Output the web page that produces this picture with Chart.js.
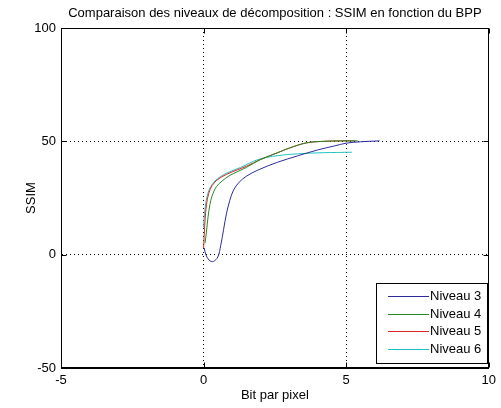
<!DOCTYPE html>
<html>
<head>
<meta charset="utf-8">
<script src="https://cdn.jsdelivr.net/npm/chart.js@4/dist/chart.umd.min.js"></script>
<style>
  html, body { margin: 0; padding: 0; background: #fff; }
  #wrap { width: 501px; height: 408px; }
</style>
</head>
<body>
<div id="wrap"><canvas id="c" width="501" height="408"></canvas></div>
<script>
// Courbes SSIM en fonction du débit (bit par pixel) par niveau de décomposition
const seriesNames = ['Niveau 3', 'Niveau 4', 'Niveau 5', 'Niveau 6'];
const seriesColors = ['#2b2b9c', '#238a23', '#e02424', '#22c2c2'];

const bpp3  = [0.02, 0.08, 0.2, 0.34, 0.5, 0.6, 0.7, 0.8, 0.92, 1.05, 1.25, 1.5, 1.9, 2.6, 3.3, 4.0, 4.6, 5.0, 5.5, 6.17];
const ssim3 = [3, 0, -2.5, -3, -1, 4, 11, 18, 24, 28.5, 32, 34.6, 37.3, 40.8, 43.6, 46.2, 48, 49.2, 49.8, 50.2];

const bpp4  = [0.05, 0.1, 0.16, 0.22, 0.3, 0.45, 0.65, 0.9, 1.2, 1.5, 2.0, 2.6, 3.0, 3.6, 4.2, 4.8, 5.4];
const ssim4 = [5, 10, 17, 22, 26, 30, 32.5, 34.8, 36.7, 38.5, 42, 45, 47, 49.3, 50, 50.2, 50.2];

const bpp5  = [0, 0.02, 0.05, 0.1, 0.18, 0.3, 0.5, 0.8, 1.2, 1.5, 2.0, 2.6, 3.0, 3.6, 4.2, 4.8, 5.3];
const ssim5 = [3, 8, 15, 22, 27, 30.5, 33.2, 35.4, 37.5, 39, 42, 45, 47, 49.3, 50, 50.2, 50.2];

const bpp6  = [0, 0.03, 0.08, 0.15, 0.25, 0.4, 0.6, 0.9, 1.3, 1.9, 2.6, 3.3, 4.2, 4.7, 5.2];
const ssim6 = [12, 18, 23, 27, 30, 32.5, 34.5, 36.5, 38.5, 41.9, 43.7, 44.5, 45, 45.1, 45.2];

const xTicks = [-5, 0, 5, 10];
const yTicks = [-50, 0, 50, 100];

const titleText = 'Comparaison des niveaux de décomposition : SSIM en fonction du BPP';
const xTitle = 'Bit par pixel';
const yTitle = 'SSIM';

const xs = [bpp3, bpp4, bpp5, bpp6];
const ys = [ssim3, ssim4, ssim5, ssim6];

const datasets = seriesNames.map((name, i) => ({
  label: name,
  data: xs[i].map((x, j) => ({ x: x, y: ys[i][j] })),
  showLine: true,
  borderColor: seriesColors[i],
  backgroundColor: seriesColors[i],
  borderWidth: 1,
  pointRadius: 0,
  tension: 0.35,
  fill: false
}));

const FONT = 'Liberation Sans, Arial, sans-serif';
const FS = 13;

// Cadre, graduations intérieures, titre et légende encadrée
const framePlugin = {
  id: 'frame',
  afterDraw(chart) {
    const ctx = chart.ctx;
    const a = chart.chartArea;
    const xs_ = chart.scales.x, ys_ = chart.scales.y;
    ctx.save();
    ctx.strokeStyle = '#000';
    ctx.lineWidth = 1;
    ctx.setLineDash([]);
    const L = Math.round(a.left) + 0.5, R = Math.round(a.right) - 0.5;
    const T = Math.round(a.top) + 0.5, B = Math.round(a.bottom) - 0.5;
    ctx.strokeRect(L, T, R - L, B - T);
    ctx.beginPath();
    xTicks.forEach(v => {
      const px = Math.round(xs_.getPixelForValue(v)) + 0.5;
      ctx.moveTo(px, B); ctx.lineTo(px, B - 5);
      ctx.moveTo(px, T); ctx.lineTo(px, T + 5);
    });
    yTicks.forEach(v => {
      const py = Math.round(ys_.getPixelForValue(v)) + 0.5;
      ctx.moveTo(L, py); ctx.lineTo(L + 5, py);
      ctx.moveTo(R, py); ctx.lineTo(R - 5, py);
    });
    ctx.stroke();

    // titre
    ctx.fillStyle = '#000';
    ctx.font = FS + 'px ' + FONT;
    ctx.textAlign = 'center';
    ctx.textBaseline = 'middle';
    ctx.fillText(titleText, (a.left + a.right) / 2, 13);

    // légende
    const bx = 376.5, by = 283.5, bw = 111, bh = 80;
    ctx.fillStyle = '#fff';
    ctx.fillRect(bx, by, bw, bh);
    ctx.strokeStyle = '#000';
    ctx.strokeRect(bx, by, bw, bh);
    ctx.textAlign = 'left';
    chart.data.datasets.forEach((ds, i) => {
      const yy = Math.round(296 + i * 17.6) + 0.5;
      ctx.strokeStyle = ds.borderColor;
      ctx.beginPath();
      ctx.moveTo(388, yy); ctx.lineTo(429, yy);
      ctx.stroke();
      ctx.fillStyle = '#000';
      ctx.fillText(ds.label, 430, yy);
    });
    ctx.restore();
  }
};

new Chart(document.getElementById('c'), {
  type: 'scatter',
  data: { datasets: datasets },
  options: {
    responsive: false,
    animation: false,
    layout: { padding: { top: 28, right: 8, left: 0, bottom: 0 } },
    plugins: {
      legend: { display: false },
      title: { display: false },
      tooltip: { enabled: false }
    },
    scales: {
      x: {
        type: 'linear',
        min: -5, max: 10,
        afterBuildTicks: s => { s.ticks = xTicks.map(v => ({ value: v })); },
        afterFit: s => { s.height = 40; },
        grid: { color: '#000', lineWidth: 1, drawTicks: false },
        border: { display: true, color: '#000', dash: [1, 3] },
        ticks: { color: '#000', font: { family: FONT, size: FS }, padding: 5 },
        title: { display: true, text: xTitle, color: '#000', font: { family: FONT, size: FS }, padding: { top: 0, bottom: 5 } }
      },
      y: {
        type: 'linear',
        min: -50, max: 100,
        afterBuildTicks: s => { s.ticks = yTicks.map(v => ({ value: v })); },
        afterFit: s => { s.width = 61; },
        grid: { color: '#000', lineWidth: 1, drawTicks: false },
        border: { display: true, color: '#000', dash: [1, 3] },
        ticks: { color: '#000', font: { family: FONT, size: FS }, padding: 5 },
        title: { display: true, text: yTitle, color: '#000', font: { family: FONT, size: FS }, padding: { top: 24, bottom: 0 } }
      }
    }
  },
  plugins: [framePlugin]
});
</script>
</body>
</html>
